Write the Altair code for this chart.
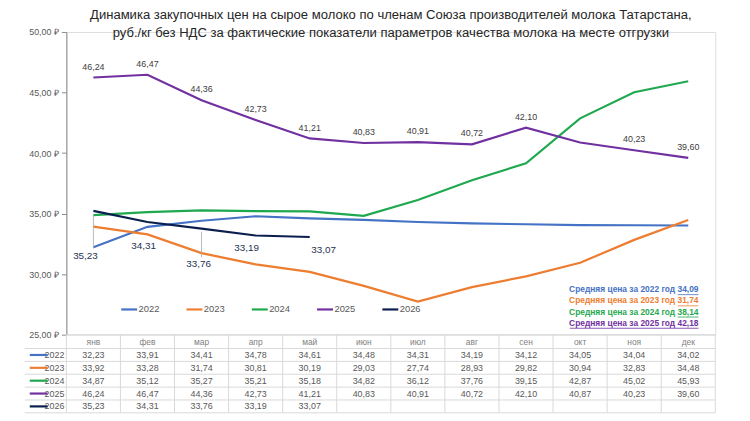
import altair as alt
import pandas as pd

FONT = "Liberation Sans"

months = ["янв", "фев", "мар", "апр", "май", "июн", "июл", "авг", "сен", "окт", "ноя", "дек"]
years = ["2022", "2023", "2024", "2025", "2026"]
v2022 = [32.23, 33.91, 34.41, 34.78, 34.61, 34.48, 34.31, 34.19, 34.12, 34.05, 34.04, 34.02]
v2023 = [33.92, 33.28, 31.74, 30.81, 30.19, 29.03, 27.74, 28.93, 29.82, 30.94, 32.83, 34.48]
v2024 = [34.87, 35.12, 35.27, 35.21, 35.18, 34.82, 36.12, 37.76, 39.15, 42.87, 45.02, 45.93]
v2025 = [46.24, 46.47, 44.36, 42.73, 41.21, 40.83, 40.91, 40.72, 42.10, 40.87, 40.23, 39.60]
v2026 = [35.23, 34.31, 33.76, 33.19, 33.07]
avg_years = ["2022", "2023", "2024", "2025"]
avg_values = [34.09, 31.74, 38.14, 42.18]
colors = ["#4472C4", "#ED7D31", "#1FA84F", "#7030A0", "#0B1F4E"]
widths = [2.2, 2.2, 2.2, 2.2, 4.5]

rows = []
for yr, vals in zip(years, [v2022, v2023, v2024, v2025, v2026]):
    for m, v in zip(months, vals):
        rows.append({"series": yr, "month": m, "value": v})
df = pd.DataFrame(rows)
mdf = pd.DataFrame({"month": months})
ydf = pd.DataFrame({"series": years})
adf = pd.DataFrame({"series": avg_years, "avg": avg_values, "col": colors[:4]})

W, H = 656, 306
FMT = "replace(format(datum.value, '.2f'), '.', ',')"

xsc = alt.Scale(type="band", domain=months, paddingInner=0, paddingOuter=0)
xc = alt.X("month:N", scale=xsc, axis=None, bandPosition=0.5)
xe = alt.X("month:N", scale=xsc, axis=None, bandPosition=0)
ysc = alt.Scale(domain=[25, 50], nice=False, zero=False)
yaxis = alt.Axis(values=[25, 30, 35, 40, 45, 50],
                 labelExpr="replace(format(datum.value, '.2f'), '.', ',') + ' ₽'",
                 grid=False, domain=True, domainColor="#8C8C8C", tickColor="#8C8C8C",
                 tickSize=5, labelColor="#595959", labelFontSize=9, labelFont=FONT,
                 labelPadding=3, title=None)
csc = alt.Scale(domain=years, range=colors)
wsc = alt.Scale(domain=years, range=widths)
leg = alt.Legend(orient="none", legendX=54, legendY=271, direction="horizontal",
                 title=None, symbolType="stroke", symbolSize=260, labelFont=FONT,
                 labelFontSize=9.5, labelColor="#595959", columnPadding=22, labelOffset=0)

lines = alt.Chart(df).mark_line().encode(
    x=xc,
    y=alt.Y("value:Q", scale=ysc, axis=yaxis),
    color=alt.Color("series:N", scale=csc, legend=leg),
    strokeWidth=alt.StrokeWidth("series:N", scale=wsc, legend=leg),
    order=alt.Order("series:N"),
)

lab25 = alt.Chart(df).transform_filter(
    "datum.series == '2025' && datum.month != 'окт'"
).transform_calculate(label=FMT).mark_text(
    dy=-11, fontSize=9, font=FONT, color="#404040"
).encode(x=xc, y=alt.Y("value:Q", scale=ysc, axis=None), text="label:N")

offsets26 = {"янв": (-8, 46), "фев": (-4, 24), "мар": (-3, 36), "апр": (-9, 13), "май": (14, 13)}
lab26 = []
for m, (dx, dy) in offsets26.items():
    lab26.append(
        alt.Chart(df).transform_filter(
            f"datum.series == '2026' && datum.month == '{m}'"
        ).transform_calculate(label=FMT).mark_text(
            dx=dx, dy=dy, fontSize=10, font=FONT, color="#1F3352"
        ).encode(x=xc, y=alt.Y("value:Q", scale=ysc, axis=None), text="label:N")
    )
leaders = []
for m, (a, b) in {"янв": (3, 38), "мар": (3, 29)}.items():
    leaders.append(
        alt.Chart(df).transform_filter(
            f"datum.series == '2026' && datum.month == '{m}'"
        ).mark_rule(color="#A6A6A6", strokeWidth=0.8, yOffset=a, y2Offset=b).encode(
            x=xc, y=alt.Y("value:Q", scale=ysc, axis=None), y2="value:Q"
        )
    )

# table
ytab = alt.Y("series:N", scale=alt.Scale(type="point", domain=years, range=[326.5, 378.5], padding=0), axis=None)
GRID = "#D9D9D9"
vgrid = alt.Chart(mdf).mark_rule(color=GRID).encode(x=xe, y=alt.value(306), y2=alt.value(385))
vgrid_r = alt.Chart(mdf.head(1)).mark_rule(color=GRID).encode(x=alt.value(W), y=alt.value(306), y2=alt.value(385))
hgrid = alt.Chart(ydf).mark_rule(color=GRID, yOffset=6.5).encode(x=alt.value(-42), x2=alt.value(W), y=ytab)
hgrid_top = alt.Chart(mdf.head(1)).mark_rule(color=GRID).encode(x=alt.value(-42), x2=alt.value(W), y=alt.value(320))
hgrid_axis = alt.Chart(mdf.head(1)).mark_rule(color=GRID).encode(x=alt.value(0), x2=alt.value(W), y=alt.value(306))

header = alt.Chart(mdf).mark_text(fontSize=8.5, font=FONT, color="#7F7F7F").encode(
    x=xc, y=alt.value(313), text="month:N")
cells = alt.Chart(df).transform_calculate(label=FMT).mark_text(
    fontSize=9, font=FONT, color="#595959").encode(x=xc, y=ytab, text="label:N")
rowlab = alt.Chart(ydf).mark_text(align="right", fontSize=9, font=FONT, color="#595959").encode(
    x=alt.value(-2), y=ytab, text="series:N")
keys = alt.Chart(ydf).mark_rule().encode(
    x=alt.value(-37), x2=alt.value(-19), y=ytab,
    color=alt.Color("series:N", scale=csc, legend=leg),
    strokeWidth=alt.StrokeWidth("series:N", scale=wsc, legend=leg))

# averages annotation
AX = 639
yav = alt.Y("series:N", scale=alt.Scale(type="point", domain=avg_years, range=[260, 294], padding=0), axis=None)
avg = alt.Chart(adf).transform_calculate(
    label="'Средняя цена за ' + datum.series + ' год ' + replace(format(datum.avg, '.2f'), '.', ',')"
).mark_text(align="right", fontSize=8.5, fontWeight="bold", font=FONT).encode(
    x=alt.value(AX), y=yav, text="label:N", color=alt.Color("col:N", scale=None))
# underline under the average values (and the full last line)
ul_num = alt.Chart(adf.head(3)).mark_rule(yOffset=5.5, strokeWidth=0.8).encode(
    x=alt.value(AX - 21), x2=alt.value(AX), y=yav, color=alt.Color("col:N", scale=None))
ul_full = alt.Chart(adf.tail(1)).mark_rule(yOffset=5.5, strokeWidth=0.8).encode(
    x=alt.value(AX - 130), x2=alt.value(AX), y=yav, color=alt.Color("col:N", scale=None))

chart = alt.layer(
    vgrid, vgrid_r, hgrid, hgrid_top, hgrid_axis, header, cells, rowlab, keys,
    lines, lab25, *lab26, *leaders, avg, ul_num, ul_full
).resolve_scale(y="independent").properties(
    width=W, height=H,
    padding={"left": 59, "top": 22, "right": 27, "bottom": 85},
    autosize=alt.AutoSizeParams(type="none"),
    title=alt.TitleParams(
        text=["Динамика закупочных цен на сырое молоко по членам Союза производителей молока Татарстана,",
              "руб./кг без НДС за фактические показатели параметров качества молока на месте отгрузки"],
        fontSize=13.2, font=FONT, fontWeight="normal", color="#262626", anchor="middle",
        offset=-12, lineHeight=17.5, frame="group"),
).configure_view(stroke=None).configure(background="white")

chart.save("out.html", embed_options={"renderer": "svg", "actions": False})
